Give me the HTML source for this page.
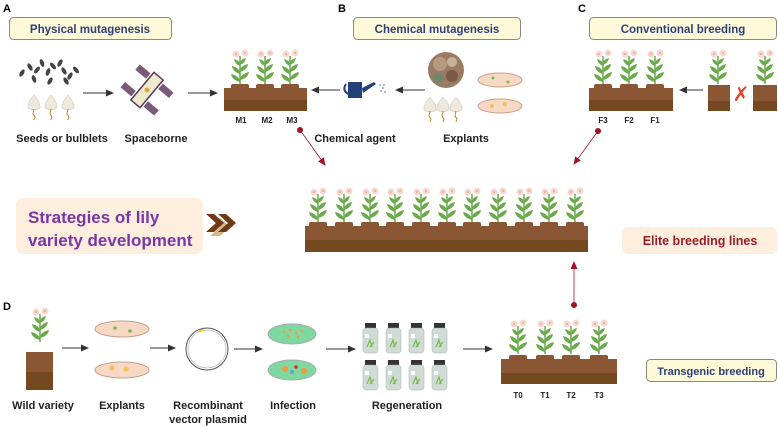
<!DOCTYPE html>
<html><head><meta charset="utf-8"><style>
body{margin:0;background:#fff;}
svg{display:block;font-family:"Liberation Sans",Arial,sans-serif;font-weight:bold;}
</style></head><body>
<svg width="778" height="427" viewBox="0 0 778 427" xmlns="http://www.w3.org/2000/svg">
<defs>
<marker id="ar" markerWidth="8" markerHeight="8" refX="7" refY="4" orient="auto" markerUnits="userSpaceOnUse"><path d="M0,0.5 L8,4 L0,7.5 z" fill="#333"/></marker>
<marker id="rr" markerWidth="8" markerHeight="8" refX="7" refY="4" orient="auto" markerUnits="userSpaceOnUse"><path d="M0,0.5 L8,4 L0,7.5 z" fill="#a0142a"/></marker>
<g id="pl">
<path d="M0,32 L0,4" stroke="#6aa84f" stroke-width="1.5"/>
<path d="M0,30 q-8,-2 -9,-8 q6,1 9,6z M0,28 q8,-2 9,-8 q-6,1 -9,6z M0,22 q-7,-2 -8,-8 q6,1 8,6z M0,20 q7,-2 8,-8 q-6,1 -8,6z M0,14 q-5,-2 -6,-7 q5,1 6,5z M0,13 q5,-2 6,-7 q-5,1 -6,5z" fill="#6aaa4a"/>
<circle cx="-4" cy="2" r="3.5" fill="#f6d9d6"/><circle cx="5" cy="1" r="3.5" fill="#f6d9d6"/><circle cx="5" cy="1" r="1.2" fill="#f0b58a"/><circle cx="-4" cy="2" r="1.2" fill="#f0b58a"/>
</g>
<g id="bump"><rect x="-9" y="-4" width="18" height="6" rx="2" fill="#8b5634"/></g>
<g id="bl"><path d="M0,0 q-7,8 -6,13 q6,4 12,0 q1,-5 -6,-13z" fill="#efe8dc" stroke="#c9bda8" stroke-width="0.5"/><path d="M0,14 l-1,5 l2,3 l-1,3" stroke="#b8882a" stroke-width="1" fill="none"/></g>
<g id="bt"><rect x="2" y="0" width="11" height="5" fill="#333"/><rect x="0" y="5" width="15" height="25" rx="3" fill="#cfdcd4" stroke="#aab" stroke-width="0.5"/><path d="M4,24 l3,-7 l2,7 M7,24 l4,-5" stroke="#7cb54c" stroke-width="1.2" fill="none"/><rect x="2" y="11" width="4" height="4" fill="#fff"/></g>
</defs>

<text x="3" y="12" font-size="11">A</text>
<text x="338" y="12" font-size="11">B</text>
<text x="578" y="12" font-size="11">C</text>
<text x="3" y="310" font-size="11">D</text>

<rect x="9.5" y="17.5" width="162" height="22" rx="4" fill="#fdf9d9" stroke="#8a8a7a"/>
<text x="90" y="33" font-size="11.5" fill="#2e3f7a" text-anchor="middle">Physical mutagenesis</text>
<rect x="353.5" y="17.5" width="167" height="22" rx="4" fill="#fdf9d9" stroke="#8a8a7a"/>
<text x="437" y="33" font-size="11.5" fill="#2e3f7a" text-anchor="middle">Chemical mutagenesis</text>
<rect x="589.5" y="17.5" width="187" height="22" rx="4" fill="#fdf9d9" stroke="#8a8a7a"/>
<text x="683" y="33" font-size="11.5" fill="#2e3f7a" text-anchor="middle">Conventional breeding</text>

<g fill="#444">
<ellipse cx="22" cy="73" rx="2" ry="4" transform="rotate(30 22 73)"/><ellipse cx="30" cy="67" rx="2" ry="4" transform="rotate(-30 30 67)"/><ellipse cx="37" cy="70" rx="2" ry="4" transform="rotate(40 37 70)"/><ellipse cx="42" cy="63" rx="2" ry="4" transform="rotate(-20 42 63)"/><ellipse cx="48" cy="72" rx="2" ry="4" transform="rotate(20 48 72)"/><ellipse cx="53" cy="66" rx="2" ry="4" transform="rotate(-40 53 66)"/><ellipse cx="60" cy="63" rx="2" ry="4" transform="rotate(30 60 63)"/><ellipse cx="64" cy="71" rx="2" ry="4" transform="rotate(-30 64 71)"/><ellipse cx="70" cy="76" rx="2" ry="4" transform="rotate(30 70 76)"/><ellipse cx="76" cy="70" rx="2" ry="4" transform="rotate(-40 76 70)"/><ellipse cx="34" cy="79" rx="2" ry="4" transform="rotate(-20 34 79)"/><ellipse cx="50" cy="81" rx="2" ry="4" transform="rotate(30 50 81)"/><ellipse cx="66" cy="81" rx="2" ry="4" transform="rotate(-30 66 81)"/>
</g>
<use href="#bl" x="34" y="95"/><use href="#bl" x="51" y="95"/><use href="#bl" x="68" y="95"/>
<line x1="83" y1="93" x2="113" y2="93" stroke="#333" marker-end="url(#ar)"/>
<g transform="rotate(40 147 90)">
<rect x="141" y="72" width="12" height="36" fill="#eeeacc" stroke="#5a3a5a" stroke-width="1.5"/>
<rect x="125" y="75" width="14" height="7" fill="#7a5a7a"/><rect x="155" y="75" width="14" height="7" fill="#7a5a7a"/>
<rect x="125" y="98" width="14" height="7" fill="#7a5a7a"/><rect x="155" y="98" width="14" height="7" fill="#7a5a7a"/>
<circle cx="147" cy="90" r="2.5" fill="#e8a838"/>
</g>
<line x1="188" y1="93" x2="217" y2="93" stroke="#333" marker-end="url(#ar)"/>
<text x="62" y="142" font-size="11" text-anchor="middle" fill="#222">Seeds or bulblets</text>
<text x="156" y="142" font-size="11" text-anchor="middle" fill="#222">Spaceborne</text>

<!-- M bed -->
<use href="#pl" x="240" y="52"/><use href="#pl" x="265" y="52"/><use href="#pl" x="290" y="52"/>
<use href="#bump" x="240" y="88"/><use href="#bump" x="265" y="88"/><use href="#bump" x="290" y="88"/>
<rect x="224" y="88" width="83" height="12" fill="#8b5634"/>
<rect x="224" y="100" width="83" height="11" fill="#74491f"/>
<g font-size="8" text-anchor="middle" fill="#222"><text x="241" y="123">M1</text><text x="267" y="123">M2</text><text x="292" y="123">M3</text></g>
<circle cx="300" cy="130" r="3" fill="#a0142a"/>
<line x1="300" y1="130" x2="325" y2="165" stroke="#a0142a" stroke-width="0.8" marker-end="url(#rr)"/>

<!-- B -->
<line x1="340" y1="90" x2="312" y2="90" stroke="#333" marker-end="url(#ar)"/>
<path d="M348,82 h14 v16 h-14z" fill="#24407a"/><path d="M362,88 l12,-6 l2,2 l-13,9z" fill="#24407a"/><path d="M346,84 q-4,6 2,10" stroke="#24407a" stroke-width="2" fill="none"/>
<g fill="#4a6aa0"><circle cx="380" cy="85" r="0.8"/><circle cx="383" cy="88" r="0.8"/><circle cx="381" cy="91" r="0.8"/><circle cx="385" cy="92" r="0.8"/><circle cx="384" cy="85" r="0.8"/></g>
<line x1="425" y1="90" x2="396" y2="90" stroke="#333" marker-end="url(#ar)"/>
<circle cx="446" cy="70" r="18" fill="#9a7a62"/><circle cx="440" cy="64" r="7" fill="#b89a80"/><circle cx="452" cy="76" r="6" fill="#7a5a44"/><circle cx="452" cy="62" r="5" fill="#c9b29a"/><circle cx="438" cy="78" r="5" fill="#6e8a6a"/>
<use href="#bl" x="430" y="97"/><use href="#bl" x="443" y="97"/><use href="#bl" x="456" y="97"/>
<ellipse cx="500" cy="80" rx="22" ry="7" fill="#f6d8c4" stroke="#c9a088"/><ellipse cx="500" cy="106" rx="22" ry="7" fill="#f6d8c4" stroke="#c9a088"/>
<circle cx="493" cy="78" r="1.5" fill="#7ab84a"/><circle cx="508" cy="82" r="1.5" fill="#7ab84a"/><circle cx="492" cy="106" r="2" fill="#f2c350"/><circle cx="505" cy="104" r="2" fill="#f2c350"/>
<text x="355" y="142" font-size="11" text-anchor="middle" fill="#222">Chemical agent</text>
<text x="466" y="142" font-size="11" text-anchor="middle" fill="#222">Explants</text>

<!-- C -->
<use href="#pl" x="603" y="52"/><use href="#pl" x="629" y="52"/><use href="#pl" x="655" y="52"/>
<use href="#bump" x="603" y="88"/><use href="#bump" x="629" y="88"/><use href="#bump" x="655" y="88"/>
<rect x="589" y="88" width="84" height="12" fill="#8b5634"/>
<rect x="589" y="100" width="84" height="11" fill="#74491f"/>
<g font-size="8" text-anchor="middle" fill="#222"><text x="603" y="123">F3</text><text x="629" y="123">F2</text><text x="655" y="123">F1</text></g>
<line x1="703" y1="90" x2="680" y2="90" stroke="#333" marker-end="url(#ar)"/>
<use href="#pl" x="718" y="52"/><use href="#pl" x="765" y="52"/>
<rect x="708" y="85" width="22" height="16" fill="#8b5634"/><rect x="708" y="101" width="22" height="10" fill="#74491f"/>
<rect x="753" y="85" width="24" height="16" fill="#8b5634"/><rect x="753" y="101" width="24" height="10" fill="#74491f"/>
<text x="741" y="101" font-size="20" fill="#e8402a" text-anchor="middle" font-weight="normal">✗</text>
<circle cx="598" cy="131" r="3" fill="#a0142a"/>
<line x1="598" y1="131" x2="574" y2="164" stroke="#a0142a" stroke-width="0.8" marker-end="url(#rr)"/>

<!-- Strategies -->
<rect x="16" y="198" width="187" height="56" rx="7" fill="#fdeedd"/>
<text x="28" y="223" font-size="17" fill="#7a35a8">Strategies of lily</text>
<text x="28" y="246" font-size="17" fill="#7a35a8">variety development</text>
<path d="M210,218 l10,0 l10,9 l-10,9 l-10,0 l10,-9z" fill="#d8b888"/>
<path d="M206,214 l8,0 l10,9 l-10,9 l-8,0 l10,-9z" fill="#6e3a1a"/>
<path d="M218,214 l8,0 l10,9 l-10,9 l-8,0 l10,-9z" fill="#6e3a1a"/>

<!-- Elite bed -->
<use href="#pl" x="318" y="190"/><use href="#pl" x="344" y="190"/><use href="#pl" x="370" y="190"/><use href="#pl" x="395" y="190"/><use href="#pl" x="421" y="190"/><use href="#pl" x="447" y="190"/><use href="#pl" x="472" y="190"/><use href="#pl" x="498" y="190"/><use href="#pl" x="524" y="190"/><use href="#pl" x="549" y="190"/><use href="#pl" x="575" y="190"/>
<use href="#bump" x="318" y="226"/><use href="#bump" x="344" y="226"/><use href="#bump" x="370" y="226"/><use href="#bump" x="395" y="226"/><use href="#bump" x="421" y="226"/><use href="#bump" x="447" y="226"/><use href="#bump" x="472" y="226"/><use href="#bump" x="498" y="226"/><use href="#bump" x="524" y="226"/><use href="#bump" x="549" y="226"/><use href="#bump" x="575" y="226"/>
<rect x="305" y="226" width="283" height="14" fill="#8b5634"/>
<rect x="305" y="240" width="283" height="12" fill="#74491f"/>
<rect x="622" y="227" width="155" height="27" rx="5" fill="#fdeedd"/>
<text x="700" y="245" font-size="12.5" fill="#9b1c2c" text-anchor="middle">Elite breeding lines</text>

<!-- D -->
<use href="#pl" x="40" y="310"/>
<rect x="26" y="352" width="27" height="20" fill="#8b5634"/><rect x="26" y="372" width="27" height="18" fill="#74491f"/>
<line x1="62" y1="348" x2="88" y2="348" stroke="#333" marker-end="url(#ar)"/>
<ellipse cx="122" cy="329" rx="27" ry="8" fill="#f6d8c4" stroke="#c9a088"/><ellipse cx="122" cy="370" rx="27" ry="8" fill="#f6d8c4" stroke="#c9a088"/>
<circle cx="115" cy="328" r="1.8" fill="#7ab84a"/><circle cx="130" cy="331" r="1.8" fill="#7ab84a"/><circle cx="112" cy="368" r="2.5" fill="#f2c350"/><circle cx="126" cy="369" r="2.5" fill="#f2c350"/>
<line x1="150" y1="348" x2="175" y2="348" stroke="#333" marker-end="url(#ar)"/>
<circle cx="207" cy="349" r="21" fill="none" stroke="#555" stroke-width="1"/><circle cx="207" cy="349" r="19" fill="none" stroke="#bbb" stroke-width="0.8"/>
<path d="M199,331 l5,-1" stroke="#e8c820" stroke-width="2"/>
<line x1="234" y1="349" x2="262" y2="349" stroke="#333" marker-end="url(#ar)"/>
<ellipse cx="292" cy="334" rx="24" ry="10" fill="#7fd8a0" stroke="#aaa"/><ellipse cx="292" cy="370" rx="24" ry="10" fill="#7fd8a0" stroke="#aaa"/>
<g fill="#f29a40"><circle cx="284" cy="332" r="1.3"/><circle cx="290" cy="330" r="1.3"/><circle cx="296" cy="333" r="1.3"/><circle cx="302" cy="331" r="1.3"/><circle cx="288" cy="336" r="1.3"/><circle cx="298" cy="337" r="1.3"/><circle cx="285" cy="369" r="3"/><circle cx="304" cy="371" r="3"/></g>
<circle cx="296" cy="367" r="1.8" fill="#d03030"/><circle cx="292" cy="372" r="2" fill="#6aa0d0"/>
<line x1="326" y1="349" x2="355" y2="349" stroke="#333" marker-end="url(#ar)"/>
<use href="#bt" x="363" y="323"/><use href="#bt" x="386" y="323"/><use href="#bt" x="409" y="323"/><use href="#bt" x="432" y="323"/>
<use href="#bt" x="363" y="360"/><use href="#bt" x="386" y="360"/><use href="#bt" x="409" y="360"/><use href="#bt" x="432" y="360"/>
<line x1="463" y1="349" x2="492" y2="349" stroke="#333" marker-end="url(#ar)"/>
<!-- T bed -->
<use href="#pl" x="518" y="322"/><use href="#pl" x="545" y="322"/><use href="#pl" x="571" y="322"/><use href="#pl" x="599" y="322"/>
<use href="#bump" x="518" y="359"/><use href="#bump" x="545" y="359"/><use href="#bump" x="571" y="359"/><use href="#bump" x="599" y="359"/>
<rect x="501" y="359" width="116" height="14" fill="#8b5634"/>
<rect x="501" y="373" width="116" height="11" fill="#74491f"/>
<g font-size="8" text-anchor="middle" fill="#222"><text x="518" y="398">T0</text><text x="545" y="398">T1</text><text x="571" y="398">T2</text><text x="599" y="398">T3</text></g>
<circle cx="574" cy="305" r="3" fill="#a0142a"/>
<line x1="574" y1="305" x2="574" y2="262" stroke="#a0142a" stroke-width="0.8" marker-end="url(#rr)"/>
<rect x="646.5" y="359.5" width="130" height="22" rx="4" fill="#fdf9d9" stroke="#8a8a7a"/>
<text x="711" y="375" font-size="11" fill="#2e3f7a" text-anchor="middle">Transgenic breeding</text>

<g font-size="11" text-anchor="middle" fill="#222">
<text x="43" y="409">Wild variety</text>
<text x="122" y="409">Explants</text>
<text x="208" y="409">Recombinant</text>
<text x="208" y="423">vector plasmid</text>
<text x="293" y="409">Infection</text>
<text x="407" y="409">Regeneration</text>
</g>
</svg>
</body></html>
